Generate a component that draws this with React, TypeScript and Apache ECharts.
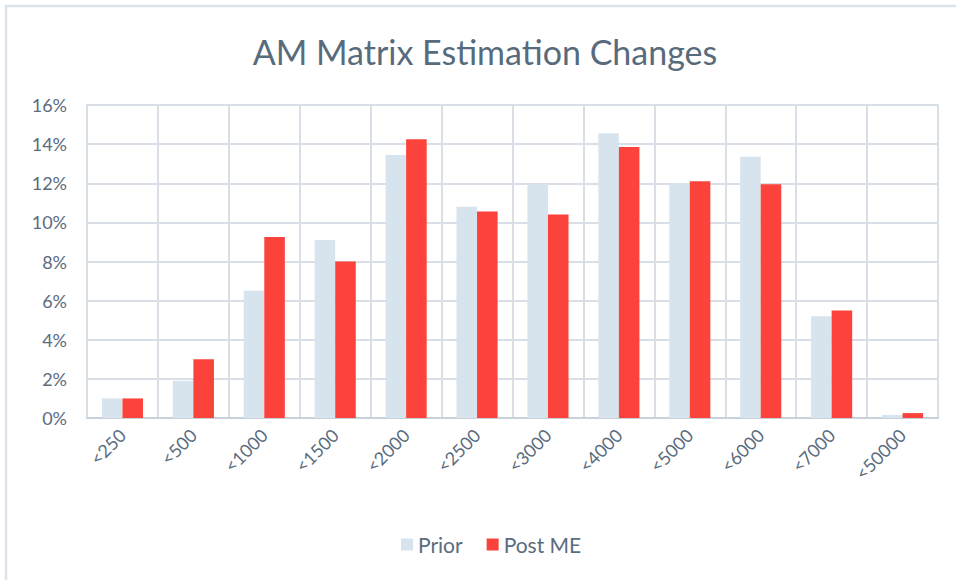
import React, { useEffect, useRef } from "react";
import * as echarts from "echarts";

const categories = ["<250", "<500", "<1000", "<1500", "<2000", "<2500", "<3000", "<4000", "<5000", "<6000", "<7000", "<50000"];
const priorValues = [1.0, 1.9, 6.5, 9.1, 13.45, 10.8, 11.95, 14.55, 12.0, 13.35, 5.2, 0.15];
const postMEValues = [1.0, 3.0, 9.25, 8.0, 14.25, 10.55, 10.4, 13.85, 12.1, 11.95, 5.5, 0.25];
const yTicks = { min: 0, max: 16, interval: 2 };
const titleText = "AM Matrix Estimation Changes";
const seriesNames = ["Prior", "Post ME"];

const FONT = "Lato, 'Open Sans', sans-serif";
const TEXT = "#5A6C7E";
const GRID = "#D9DFE6";

export default function App() {
  const ref = useRef<HTMLDivElement>(null);
  useEffect(() => {
    if (!ref.current) return;
    const chart = echarts.init(ref.current, undefined, { renderer: "svg" });
    chart.setOption({
      animation: false,
      backgroundColor: "#ffffff",
      textStyle: { fontFamily: FONT },
      title: {
        text: titleText,
        left: 480,
        top: 29,
        textAlign: "center",
        textStyle: { fontFamily: FONT, fontSize: 34, fontWeight: "normal", color: "#586B7C" },
      },
      graphic: [
        {
          type: "rect",
          shape: { x: 6, y: 6, width: 1000, height: 700 },
          style: { fill: "none", stroke: "#DCE3EA", lineWidth: 2.5 },
          silent: true,
        },
      ],
      legend: {
        data: seriesNames,
        top: 529,
        left: 396,
        itemWidth: 12,
        itemHeight: 12,
        itemGap: 24,
        icon: "rect",
        textStyle: { fontFamily: FONT, fontSize: 21, color: TEXT },
      },
      grid: {
        left: 87,
        right: 18,
        top: 105,
        bottom: 162,
        show: true,
        borderColor: GRID,
        borderWidth: 2,
      },
      xAxis: {
        type: "category",
        data: categories,
        axisLine: { show: true, lineStyle: { color: "#C9D2DB", width: 2 } },
        axisTick: { show: false },
        splitLine: { show: true, lineStyle: { color: GRID, width: 2 } },
        axisLabel: {
          rotate: 45,
          margin: 14,
          fontFamily: FONT,
          fontSize: 18,
          color: TEXT,
          interval: 0,
        },
      },
      yAxis: {
        type: "value",
        min: yTicks.min,
        max: yTicks.max,
        interval: yTicks.interval,
        axisLine: { show: true, lineStyle: { color: GRID, width: 2 } },
        axisTick: { show: false },
        splitLine: { show: true, lineStyle: { color: GRID, width: 2 } },
        axisLabel: {
          margin: 20,
          fontFamily: FONT,
          fontSize: 18,
          color: TEXT,
          formatter: (v: number) => `${v}%`,
        },
      },
      series: [
        {
          name: seriesNames[0],
          type: "bar",
          data: priorValues,
          itemStyle: { color: "#D7E4EE" },
          barGap: "0%",
          barCategoryGap: "42%",
        },
        {
          name: seriesNames[1],
          type: "bar",
          data: postMEValues,
          itemStyle: { color: "#FB433B" },
          barGap: "0%",
          barCategoryGap: "42%",
        },
      ],
    });
    return () => chart.dispose();
  }, []);
  return (
    <div
      ref={ref}
      style={{ position: "fixed", left: 0, top: 0, width: 956, height: 580 }}
    />
  );
}
